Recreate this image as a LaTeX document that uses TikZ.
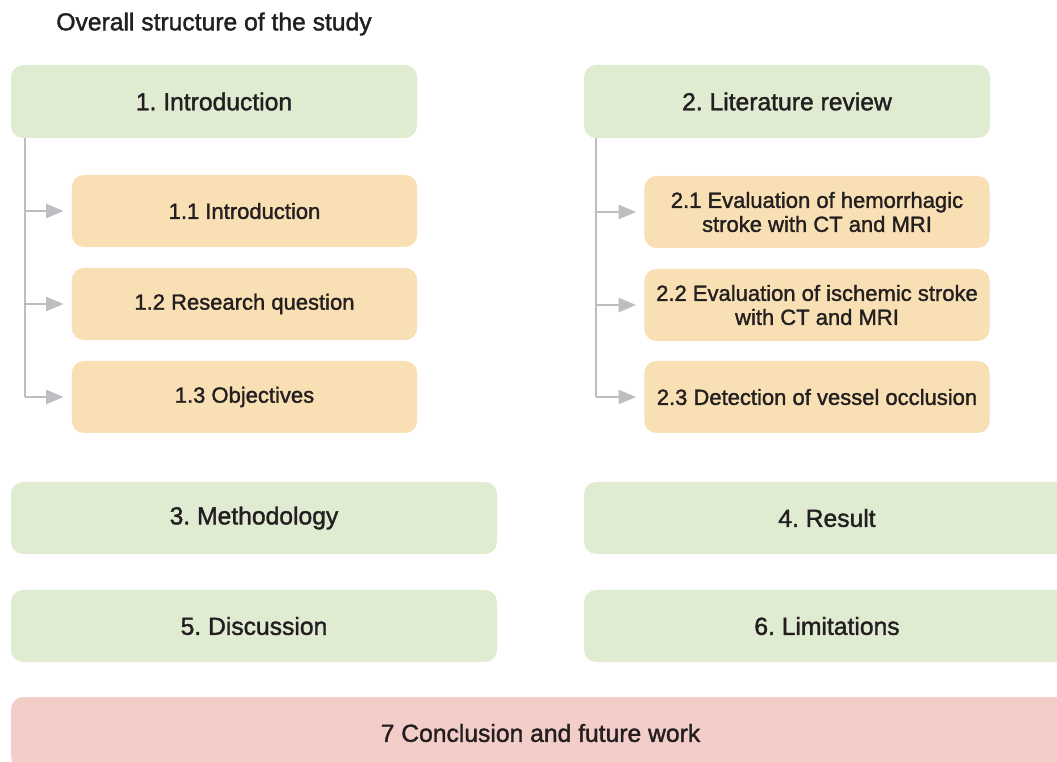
\documentclass[tikz,border=0pt]{standalone}
\usepackage{fontspec}
\setmainfont{Liberation Sans}[FakeBold=1.5]
\usepackage{tikz}
\usetikzlibrary{arrows.meta}
\definecolor{secgreen}{HTML}{DFECD2}
\definecolor{suborange}{HTML}{F9E0B4}
\definecolor{endred}{HTML}{F3CDC7}
\definecolor{linkgray}{HTML}{BDBEC2}
\definecolor{txt}{HTML}{231F20}
\frenchspacing

\begin{document}
\begin{tikzpicture}[x=0.75pt,y=-0.75pt,
	box/.style={rounded corners=9pt,inner sep=0pt,text=txt,align=center,
		font=\fontsize{16.5}{18}\selectfont},
	sec/.style={box,fill=secgreen,minimum height=54.75pt,font=\fontsize{18.5}{20}\selectfont},
	sub/.style={box,fill=suborange,minimum height=54pt,minimum width=259pt},
	link/.style={draw=linkgray,line width=1.5pt,-{Triangle[length=13pt,width=10.5pt]}}]
	\useasboundingbox (0,0) rectangle (1057,762);
	\clip (0,0) rectangle (1057,762);
	\node[text=txt,font=\fontsize{18.5}{20}\selectfont] (title) at (214,24) {Overall structure of the study};
	%
	\node[sec,minimum width=304.5pt] (intro) at (214,101.5) {1. Introduction};
	\node[sub] (s11) at (244.5,211) {1.1 Introduction};
	\node[sub] (s12) at (244.5,304) {1.2 Research question};
	\node[sub] (s13) at (244.5,397) {1.3 Objectives};
		\coordinate (introtop) at (25,138);
		\coordinate (introbot) at (25,397);
		\draw[link,-] (introtop)--(introbot);
		\draw[link,shorten >=6pt] (introtop|-s11)--(s11.west);
		\draw[link,shorten >=6pt] (introtop|-s12)--(s12.west);
		\draw[link,shorten >=6pt] (introbot)--(s13.west);
	%
	\node[sec,minimum width=304.5pt] (lit) at (787,101.5) {2. Literature review};
	\node[sub] (s21) at (817,212) {2.1 Evaluation of hemorrhagic\\stroke with CT and MRI};
	\node[sub] (s22) at (817,305) {2.2 Evaluation of ischemic stroke\\with CT and MRI};
	\node[sub] (s23) at (817,397) {2.3 Detection of vessel occlusion};
		\coordinate (littop) at (596,138);
		\coordinate (litbot) at (596,397);
		\draw[link,-] (littop)--(litbot);
		\draw[link,shorten >=6pt] (littop|-s21)--(s21.west);
		\draw[link,shorten >=6pt] (littop|-s22)--(s22.west);
		\draw[link,shorten >=6pt] (litbot)--(s23.west);
	%
	\node[sec,minimum width=364.5pt,minimum height=54pt] (meth) at (254,518) {3. Methodology};
	\node[sec,minimum width=364.5pt,minimum height=54pt] (res) at (827,518) {4. Result};
	\node[sec,minimum width=364.5pt,minimum height=54pt] (disc) at (254,626) {5. Discussion};
	\node[sec,minimum width=364.5pt,minimum height=54pt] (lim) at (827,626) {6. Limitations};
	%
	\node[sec,fill=endred,minimum width=794pt,minimum height=54pt] (concl) at (540.5,733) {7 Conclusion and future work};
\end{tikzpicture}
\end{document}
